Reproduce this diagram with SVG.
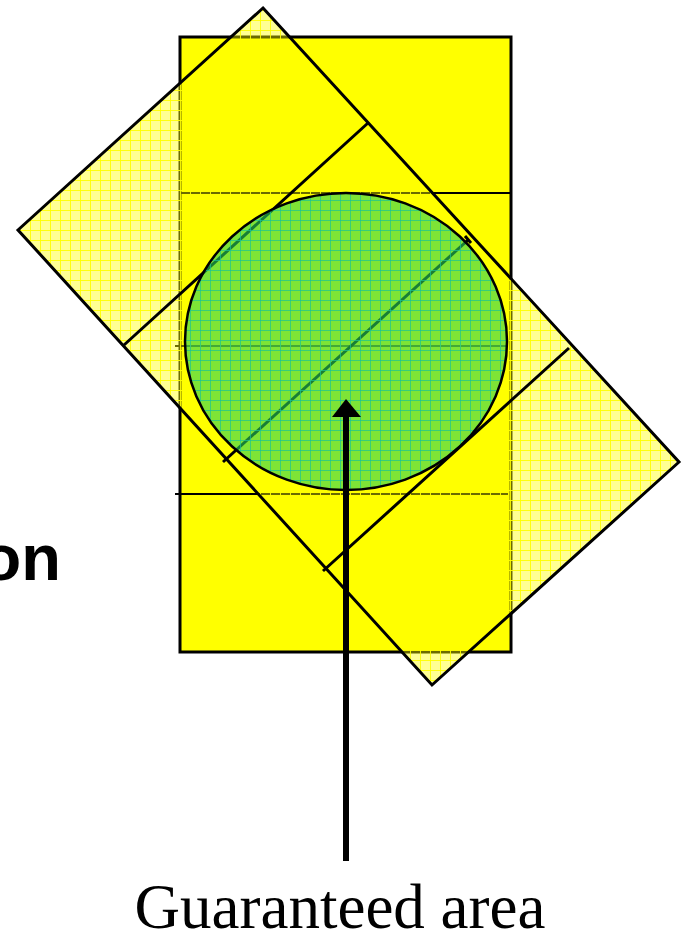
<svg xmlns="http://www.w3.org/2000/svg" width="682" height="941" viewBox="0 0 682 941">
<defs>
<pattern id="pY" patternUnits="userSpaceOnUse" width="10" height="10">
<rect width="10" height="10" fill="#FFFF00" fill-opacity="0.42"/>
<path d="M0 0.5H10M0.5 0V10" stroke="#FFFF00" stroke-opacity="0.9" stroke-width="1"/>
</pattern>
<pattern id="pG" patternUnits="userSpaceOnUse" width="10" height="10">
<rect width="10" height="10" fill="rgb(40,210,90)" fill-opacity="0.6"/>
<path d="M0 0.5H10M0.5 0V10" stroke="rgb(25,195,150)" stroke-opacity="0.7" stroke-width="1"/>
</pattern>
<style>
.ln{stroke:#000;stroke-width:3;fill:none}
.hl{stroke:#000;stroke-width:2;fill:none}
</style>
</defs>
<g id="rect">
<rect x="180" y="37" width="331" height="615" fill="#FFFF00" stroke="#000" stroke-width="3"/>
<path class="hl" d="M180 193H511M175 346H506M175 494H508"/>
</g>
<g id="rotated">
<polygon points="263,8 679,462 432,685 18,230" fill="url(#pY)" stroke="#000" stroke-width="3"/>
<path class="ln" d="M368 123L124 345M569 348L323 571"/>
<path class="ln" d="M468 240L223 462"/>
<path class="ln" d="M465 236L471 243"/>
</g>
<g id="ellipse">
<ellipse cx="346" cy="341.5" rx="161" ry="148.5" fill="url(#pG)" stroke="#000" stroke-width="2.5"/>
</g>
<g id="connectors">
<line x1="346" y1="861" x2="346" y2="412" stroke="#000" stroke-width="6"/>
<polygon points="346,399 332,417 361,417" fill="#000"/>
</g>
<g id="labels">
<text x="61" y="580" font-family="Liberation Sans, Arial, sans-serif" font-weight="bold" font-size="65" text-anchor="end">on</text>
<text x="340" y="928" font-family="Liberation Serif, Times New Roman, serif" font-size="63" text-anchor="middle">Guaranteed area</text>
</g>
</svg>
